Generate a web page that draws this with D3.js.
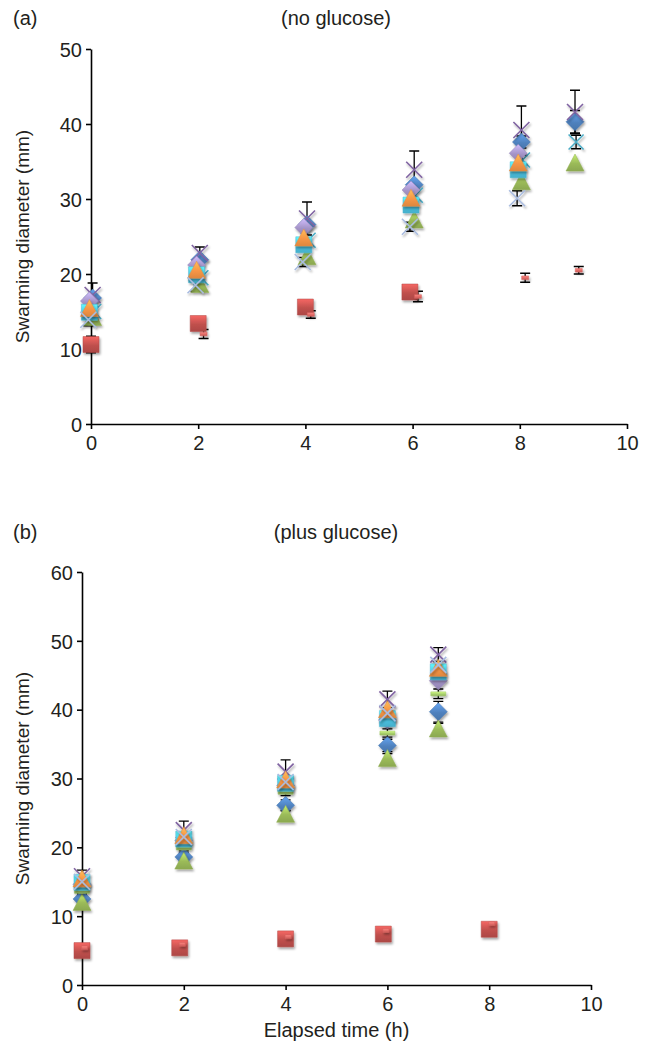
<!DOCTYPE html>
<html>
<head>
<meta charset="utf-8">
<script src="https://cdn.jsdelivr.net/npm/d3@7"></script>
<style>
body { margin: 0; background: #fff; }
text { font-family: "Liberation Sans", Arial, sans-serif; fill: #231f20; }
</style>
</head>
<body>
<svg id="chart" width="652" height="1047"></svg>
<script>
"use strict"

// ---- panel (a): no glucose ----
let aTimes = [0, 2, 4, 6, 8, 9]
let aRedTimes = [0, 2, 4, 5.95, 8, 9]
let aBlueDiamond   = [16.8, 21.9, 26.6, 31.9, 37.6, 40.3]
let aRedSquare     = [10.6, 13.4, 15.6, 17.6, null, null]
let aRedDash       = [null, 12.0, 14.6, 17.0, 19.5, 20.5]
let aGreenTriangle = [14.2, 18.6, 22.3, 27.2, 32.3, 34.8]
let aPurpleX       = [17.2, 22.8, 27.4, 33.9, 39.2, 41.6]
let aCyanX         = [15.0, 19.5, 24.5, 30.5, 35.2, 37.6]
let aPurpleDiamond = [16.4, 21.2, 26.2, 31.2, 36.1, null]
let aCyanSquare    = [14.9, 19.9, 23.9, 29.2, 33.9, null]
let aOrangeTri     = [15.4, 20.5, 24.8, 30.1, 34.8, null]
let aLightX        = [13.9, 18.5, 21.6, 26.3, 30.1, null]
let aErrPurpleX    = [1.6, 0.8, 2.2, 2.5, 3.2, 2.9]
let aErrLightX     = [0.8, 0.8, 0.6, 0.6, 1.0, 0]
let aErrCyanX      = [0, 0, 0, 0, 0.6, 0.9]
let aErrBlue       = [0, 0, 0, 0, 0.8, 1.5]
let aErrRedDash    = [0, 0.6, 0.5, 0.7, 0.6, 0.5]
let aErrRedSquare  = [1.1, 0, 0, 0, 0, 0]

// ---- panel (b): plus glucose ----
let bTimes = [0, 2, 4, 6, 7]
let bRedTimes = [0, 1.92, 4.0, 5.92, 8.0]
let bBlueDiamond   = [12.5, 18.6, 26.1, 34.8, 39.7]
let bGreenTriangle = [12.0, 18.0, 24.8, 32.9, 37.2]
let bGreenDash     = [13.6, 19.9, 28.0, 36.6, 42.3]
let bPurpleDiamond = [14.6, 21.0, 29.0, 38.5, 44.2]
let bCyanSquare    = [14.9, 21.2, 29.3, 38.7, 45.5]
let bOrangeTri     = [15.4, 21.7, 29.8, 40.0, 46.0]
let bPurpleX       = [15.8, 22.5, 31.0, 41.5, 48.0]
let bLightX        = [15.0, 21.5, 29.5, 39.5, 46.5]
let bRedSquare     = [5.0, 5.4, 6.7, 7.4, 8.1]
let bRedDash       = [5.4, 5.9, 7.0, 7.9, 8.9]
let bErrPurpleX    = [0.9, 1.3, 1.7, 1.2, 1.0]
let bErrBlue       = [0.6, 0.6, 0.8, 0.9, 1.5]
let bErrGreen      = [0.5, 0.5, 0.6, 0.7, 0.8]
let bErrGreenDash  = [0.3, 0.4, 0.5, 0.6, 0.7]

let xTicks = [0, 2, 4, 6, 8, 10]
let yTicksA = [0, 10, 20, 30, 40, 50]
let yTicksB = [0, 10, 20, 30, 40, 50, 60]

let svg = d3.select("#chart")
let defs = svg.append("defs")

let shadow = defs.append("filter").attr("id", "shadow")
    .attr("x", "-50%").attr("y", "-50%").attr("width", "200%").attr("height", "200%")
shadow.append("feDropShadow")
    .attr("dx", 1.2).attr("dy", 2).attr("stdDeviation", 1.2)
    .attr("flood-color", "#000").attr("flood-opacity", 0.35)

let gradCount = 0
function gradient(color) {
    let id = "g" + (gradCount++)
    let g = defs.append("linearGradient").attr("id", id)
        .attr("x1", 0).attr("y1", 0).attr("x2", 0).attr("y2", 1)
    g.append("stop").attr("offset", "0%").attr("stop-color", d3.color(color).brighter(0.7))
    g.append("stop").attr("offset", "55%").attr("stop-color", color)
    g.append("stop").attr("offset", "100%").attr("stop-color", d3.color(color).darker(0.3))
    return "url(#" + id + ")"
}

function shapePath(shape, s) {
    let h = s / 2
    if (shape == "square") return `M${-h},${-h}H${h}V${h}H${-h}Z`
    if (shape == "diamond") return `M0,${-h - 1}L${h + 1},0L0,${h + 1}L${-h - 1},0Z`
    if (shape == "triangle") return `M0,${-h - 1}L${h + 1},${h}L${-h - 1},${h}Z`
    if (shape == "x") return `M${-h},${-h}L${h},${h}M${-h},${h}L${h},${-h}`
    if (shape == "dash") return `M${-h},-2H${h}V2H${-h}Z`
    if (shape == "smalldash") return `M${-h},-1.8H${h}V1.8H${-h}Z`
}

function series(shape, color, size, xs, ys, err, dx) {
    return { shape: shape, color: color, size: size, xs: xs, ys: ys, err: err || [], dx: dx || 0 }
}

let panelA = {
    label: "(a)", title: "(no glucose)", titleY: 25,
    x: d3.scaleLinear().domain([0, 10]).range([91, 627]),
    y: d3.scaleLinear().domain([0, 50]).range([424, 49]),
    yTicks: yTicksA, xLabel: null,
    series: [
        series("square", "#C0504D", 16, aRedTimes, aRedSquare, aErrRedSquare),
        series("diamond", "#4F81BD", 16, aTimes, aBlueDiamond, aErrBlue, 0.03),
        series("triangle", "#9BBB59", 16, aTimes, aGreenTriangle, [], 0.03),
        series("x", "#8064A2", 16, aTimes, aPurpleX, aErrPurpleX, 0.03),
        series("x", "#4BACC6", 15, aTimes, aCyanX, aErrCyanX, 0.05),
        series("diamond", "#A393C6", 16, aTimes, aPurpleDiamond, [], -0.03),
        series("square", "#4CC3E2", 16, aTimes, aCyanSquare, [], -0.03),
        series("triangle", "#F79646", 16, aTimes, aOrangeTri, [], -0.03),
        series("x", "#A9BCE0", 16, aTimes, aLightX, aErrLightX, -0.05),
        series("smalldash", "#E26A66", 7, aTimes, aRedDash, aErrRedDash, 0.1)
    ]
}

let panelB = {
    label: "(b)", title: "(plus glucose)", titleY: 539,
    x: d3.scaleLinear().domain([0, 10]).range([82, 591]),
    y: d3.scaleLinear().domain([0, 60]).range([985, 572]),
    yTicks: yTicksB, xLabel: "Elapsed time (h)",
    series: [
        series("square", "#C0504D", 16, bRedTimes, bRedSquare),
        series("diamond", "#4F81BD", 16, bTimes, bBlueDiamond, bErrBlue),
        series("triangle", "#9BBB59", 16, bTimes, bGreenTriangle, bErrGreen),
        series("x", "#8064A2", 16, bTimes, bPurpleX, bErrPurpleX),
        series("diamond", "#A393C6", 16, bTimes, bPurpleDiamond),
        series("dash", "#A8D06C", 15, bTimes, bGreenDash, bErrGreenDash),
        series("square", "#4CC3E2", 16, bTimes, bCyanSquare),
        series("triangle", "#F79646", 16, bTimes, bOrangeTri),
        series("x", "#A9BCE0", 16, bTimes, bLightX),
        series("smalldash", "#E26A66", 6, bRedTimes.map(t => t + 0.05), bRedDash)
    ]
}

function drawPanel(p) {
    let g = svg.append("g")
    let x = p.x, y = p.y

    g.append("text").attr("x", 13).attr("y", p.titleY).attr("font-size", 20).text(p.label)
    g.append("text").attr("x", 336).attr("y", p.titleY).attr("font-size", 20)
        .attr("text-anchor", "middle").text(p.title)

    let yAxis = d3.axisLeft(y).tickValues(p.yTicks).tickSize(5).tickSizeOuter(0).tickPadding(4)
    let xAxis = d3.axisBottom(x).tickValues(xTicks).tickSize(5).tickSizeOuter(0).tickPadding(4)

    let ya = g.append("g").attr("transform", `translate(${x(0)},0)`).call(yAxis)
    let xa = g.append("g").attr("transform", `translate(0,${y(0)})`).call(xAxis)
    for (let a of [ya, xa]) {
        a.select(".domain").attr("stroke", "#000").attr("stroke-width", 1.6)
        a.selectAll(".tick line").attr("stroke", "#000").attr("stroke-width", 1.6)
        a.selectAll(".tick text").attr("font-size", 20).attr("fill", "#231f20")
            .attr("font-family", "Liberation Sans, Arial, sans-serif")
    }
    ya.selectAll(".tick text").attr("dy", "0.36em")
    xa.selectAll(".tick text").attr("dy", "0.85em")

    let midY = (y.range()[0] + y.range()[1]) / 2
    g.append("text")
        .attr("transform", `translate(29,${midY}) rotate(-90)`)
        .attr("text-anchor", "middle").attr("font-size", 19)
        .text("Swarming diameter (mm)")

    if (p.xLabel) {
        g.append("text").attr("x", (x(0) + x(10)) / 2).attr("y", 1037)
            .attr("text-anchor", "middle").attr("font-size", 20).text(p.xLabel)
    }

    // error bars first, markers on top
    let errG = g.append("g")
    for (let s of p.series) {
        s.ys.forEach(function (v, i) {
            let e = s.err[i]
            if (v == null || !e) return
            let cx = x(s.xs[i] + s.dx)
            errG.append("path")
                .attr("d", `M${cx},${y(v - e)}V${y(v + e)}M${cx - 5},${y(v - e)}H${cx + 5}M${cx - 5},${y(v + e)}H${cx + 5}`)
                .attr("stroke", "#000").attr("stroke-width", 1.3).attr("fill", "none")
        })
    }

    for (let s of p.series) {
        let fill = s.shape == "x" ? "none" : gradient(s.color)
        let pts = s.ys.map((v, i) => ({ t: s.xs[i] + s.dx, v: v })).filter(d => d.v != null)
        g.append("g").attr("filter", "url(#shadow)")
            .selectAll("path").data(pts).enter().append("path")
            .attr("transform", d => `translate(${x(d.t)},${y(d.v)})`)
            .attr("d", shapePath(s.shape, s.size))
            .attr("fill", fill)
            .attr("stroke", s.shape == "x" ? s.color : d3.color(s.color).darker(0.2))
            .attr("stroke-width", s.shape == "x" ? 1.6 : 0.5)
    }
}

drawPanel(panelA)
drawPanel(panelB)
</script>
</body>
</html>
